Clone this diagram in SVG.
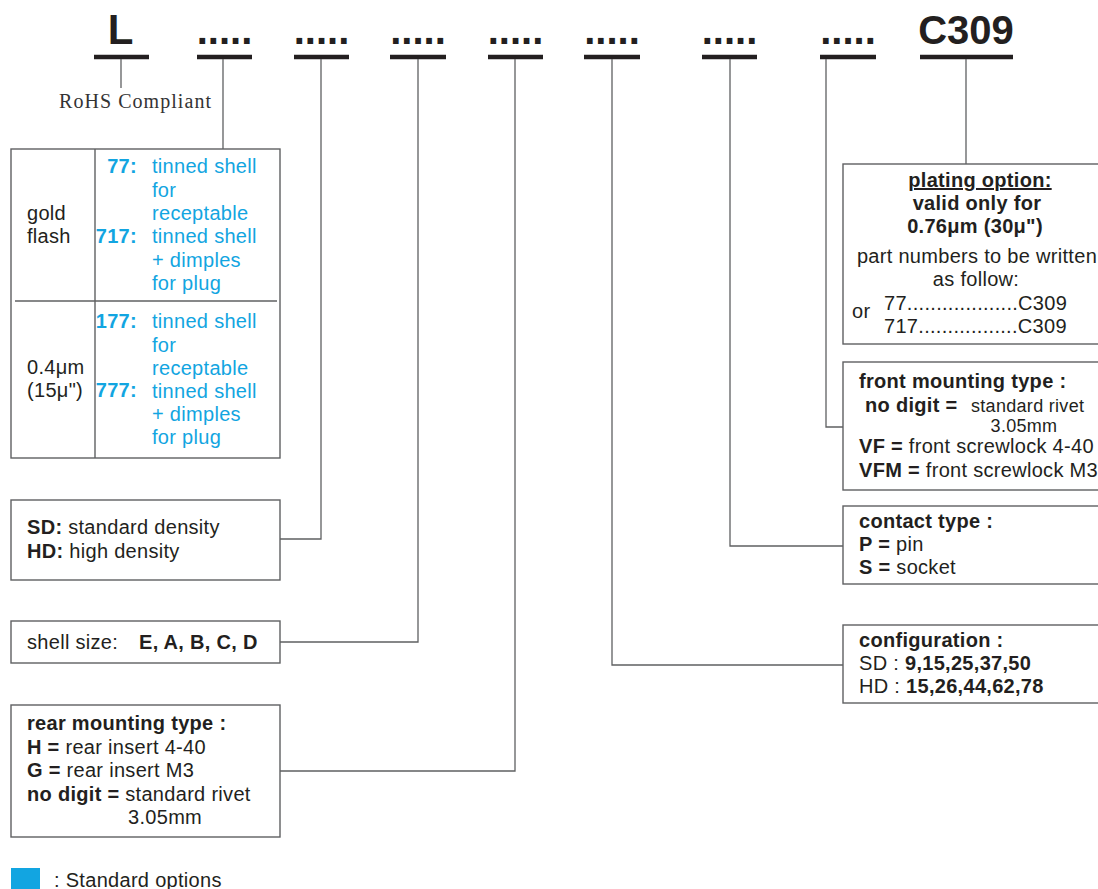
<svg xmlns="http://www.w3.org/2000/svg" width="1098" height="889" viewBox="0 0 1098 889">
<style>
.t{font-family:"Liberation Sans",Arial,sans-serif;font-size:20px;fill:#231f20;letter-spacing:0.3px}
.b{font-weight:bold}
.s{font-size:18px}
.blue{fill:#12a5e1}
.hd{font-family:"Liberation Sans",Arial,sans-serif;font-weight:bold;fill:#231f20;text-anchor:middle}
.box{fill:none;stroke:#5f6062;stroke-width:1.4}
.conn{fill:none;stroke:#5f6062;stroke-width:1.3}
.bar{stroke:#231f20;stroke-width:4.5}
.mid{text-anchor:middle}
.end{text-anchor:end}
</style>
<rect width="1098" height="889" fill="#ffffff"/>

<g id="header">
  <text class="hd" x="120.5" y="44" font-size="42">L</text>
  <text class="hd" x="224.5" y="44" font-size="40">.....</text>
  <text class="hd" x="321.5" y="44" font-size="40">.....</text>
  <text class="hd" x="418" y="44" font-size="40">.....</text>
  <text class="hd" x="515.5" y="44" font-size="40">.....</text>
  <text class="hd" x="612" y="44" font-size="40">.....</text>
  <text class="hd" x="729.5" y="44" font-size="40">.....</text>
  <text class="hd" x="848" y="44" font-size="40">.....</text>
  <text class="hd" x="966" y="44" font-size="40">C309</text>
  <line class="bar" x1="94" y1="57" x2="149" y2="57"/>
  <line class="bar" x1="197" y1="57" x2="252" y2="57"/>
  <line class="bar" x1="294" y1="57" x2="349" y2="57"/>
  <line class="bar" x1="390" y1="57" x2="446" y2="57"/>
  <line class="bar" x1="488" y1="57" x2="543" y2="57"/>
  <line class="bar" x1="584" y1="57" x2="640" y2="57"/>
  <line class="bar" x1="702" y1="57" x2="757" y2="57"/>
  <line class="bar" x1="820" y1="57" x2="876" y2="57"/>
  <line class="bar" x1="920" y1="57" x2="1013" y2="57"/>
</g>

<g id="connectors">
  <path class="conn" d="M121 59 V88"/>
  <path class="conn" d="M223 59 V149"/>
  <path class="conn" d="M321 59 V539 H280"/>
  <path class="conn" d="M418 59 V642 H280"/>
  <path class="conn" d="M515 59 V771 H280"/>
  <path class="conn" d="M612 59 V665 H843"/>
  <path class="conn" d="M730 59 V546 H843"/>
  <path class="conn" d="M826 59 V427 H843"/>
  <path class="conn" d="M966 59 V164"/>
</g>

<g id="rohs">
  <text x="59" y="108" font-family="'Liberation Serif','Times New Roman',serif" font-size="20" fill="#333333" textLength="152" lengthAdjust="spacing">RoHS Compliant</text>
</g>

<g id="plating-table">
  <rect class="box" x="11" y="149" width="269" height="309"/>
  <line class="box" x1="95" y1="149" x2="95" y2="458"/>
  <line class="box" x1="15" y1="301" x2="277" y2="301"/>
  <text class="t" x="27" y="220">gold</text>
  <text class="t" x="27" y="243">flash</text>
  <text class="t" x="27" y="374">0.4μm</text>
  <text class="t" x="27" y="397">(15μ")</text>
  <text class="t b blue end" x="137" y="173">77:</text>
  <text class="t b blue end" x="137" y="243">717:</text>
  <text class="t b blue end" x="137" y="328">177:</text>
  <text class="t b blue end" x="137" y="397">777:</text>
  <text class="t blue" x="152" y="173">tinned shell</text>
  <text class="t blue" x="152" y="196.5">for</text>
  <text class="t blue" x="152" y="220">receptable</text>
  <text class="t blue" x="152" y="243">tinned shell</text>
  <text class="t blue" x="152" y="266.5">+ dimples</text>
  <text class="t blue" x="152" y="290">for plug</text>
  <text class="t blue" x="152" y="328">tinned shell</text>
  <text class="t blue" x="152" y="351.5">for</text>
  <text class="t blue" x="152" y="375">receptable</text>
  <text class="t blue" x="152" y="397.5">tinned shell</text>
  <text class="t blue" x="152" y="421">+ dimples</text>
  <text class="t blue" x="152" y="444">for plug</text>
</g>

<g id="density">
  <rect class="box" x="11" y="500" width="269" height="80"/>
  <text class="t" x="27" y="534"><tspan class="b">SD:</tspan> standard density</text>
  <text class="t" x="27" y="558"><tspan class="b">HD:</tspan> high density</text>
</g>

<g id="shell-size">
  <rect class="box" x="11" y="621" width="269" height="42"/>
  <text class="t" x="27" y="649">shell size:</text>
  <text class="t b" x="139" y="649">E, A, B, C, D</text>
</g>

<g id="rear-mounting">
  <rect class="box" x="11" y="705" width="269" height="132"/>
  <text class="t b" x="27" y="730">rear mounting type :</text>
  <text class="t" x="27" y="753.5"><tspan class="b">H =</tspan> rear insert 4-40</text>
  <text class="t" x="27" y="777"><tspan class="b">G =</tspan> rear insert M3</text>
  <text class="t" x="27" y="800.5"><tspan class="b">no digit =</tspan> standard rivet</text>
  <text class="t" x="128" y="824">3.05mm</text>
</g>

<g id="legend">
  <rect x="11" y="868" width="29" height="21" fill="#12a5e1"/>
  <text class="t" x="54" y="887">: Standard options</text>
</g>

<g id="plating-option">
  <rect class="box" x="843" y="164" width="270" height="180"/>
  <text class="t b mid" x="980" y="187" text-decoration="underline">plating option:</text>
  <text class="t b mid" x="977" y="210">valid only for</text>
  <text class="t b mid" x="975" y="233">0.76μm (30μ")</text>
  <text class="t mid" x="977" y="263">part numbers to be written</text>
  <text class="t mid" x="976" y="286">as follow:</text>
  <text class="t" x="852" y="318">or</text>
  <text class="t" x="884" y="310">77...................C309</text>
  <text class="t" x="884" y="333">717.................C309</text>
</g>

<g id="front-mounting">
  <rect class="box" x="843" y="362" width="270" height="128"/>
  <text class="t b" x="859" y="388">front mounting type :</text>
  <text class="t b" x="865" y="412">no digit =</text>
  <text class="t s" x="971" y="412">standard rivet</text>
  <text class="t s mid" x="1024" y="432" font-size="17">3.05mm</text>
  <text class="t" x="859" y="453"><tspan class="b">VF =</tspan> front screwlock 4-40</text>
  <text class="t" x="859" y="477"><tspan class="b">VFM =</tspan> front screwlock M3</text>
</g>

<g id="contact-type">
  <rect class="box" x="843" y="506" width="270" height="78"/>
  <text class="t b" x="859" y="528">contact type :</text>
  <text class="t" x="859" y="551"><tspan class="b">P =</tspan> pin</text>
  <text class="t" x="859" y="574"><tspan class="b">S =</tspan> socket</text>
</g>

<g id="configuration">
  <rect class="box" x="843" y="625" width="270" height="78"/>
  <text class="t b" x="859" y="647">configuration :</text>
  <text class="t" x="859" y="670">SD : <tspan class="b">9,15,25,37,50</tspan></text>
  <text class="t" x="859" y="693">HD : <tspan class="b">15,26,44,62,78</tspan></text>
</g>
</svg>
